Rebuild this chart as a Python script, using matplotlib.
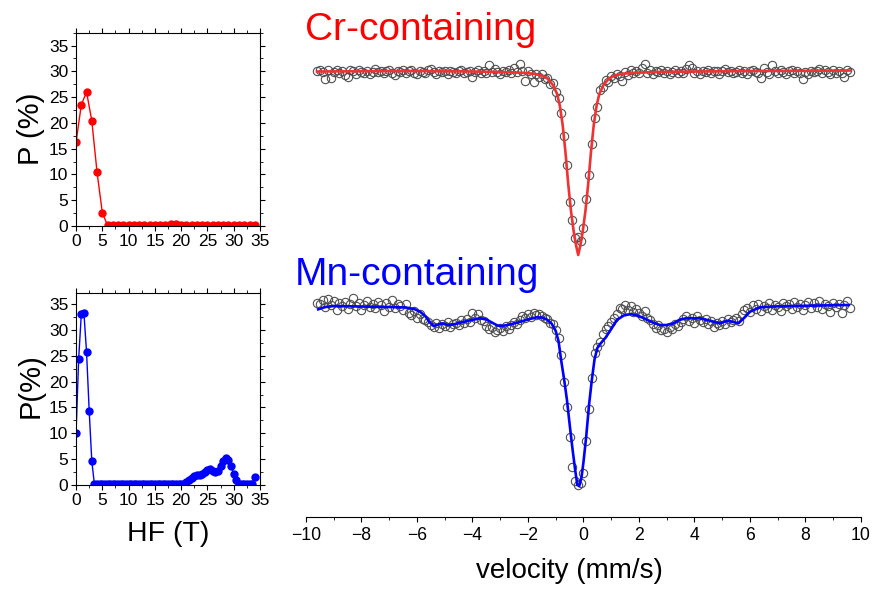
import numpy as np
import matplotlib
matplotlib.use('Agg')
from matplotlib import pyplot as plt
from matplotlib.ticker import MultipleLocator

plt.rcParams['font.family'] = ['Liberation Sans', 'DejaVu Sans']

# hyperfine field distributions
hf_cr = np.arange(0, 35, 1)
p_cr = [16.2, 23.5, 26.0, 20.4, 10.4, 2.6, 0.1, 0.1, 0.1, 0.1, 0.1, 0.1, 0.1, 0.1, 0.1, 0.1, 0.1, 0.1,
        0.35, 0.45, 0.15, 0.1, 0.1, 0.1, 0.1, 0.1, 0.1, 0.1, 0.1, 0.1, 0.1, 0.1, 0.15, 0.2, 0.1]

hf_mn = np.arange(0, 34.5, 0.5)
p_mn = [10.0, 24.4, 33.0, 33.2, 25.7, 14.4, 4.6] + [0.1] * 34 + \
       [0.2, 0.5, 0.9, 1.4, 1.7, 1.9, 2.0, 2.1, 2.5, 2.9, 3.1, 2.8, 2.5, 2.8, 3.7, 4.7, 5.2, 4.8, 3.6,
        2.1, 1.0, 0.1, 0.1, 0.1, 0.1, 0.1, 0.1, 1.5]

# Mossbauer spectra (arbitrary units, Cr spectrum offset above Mn)
vel = np.round(np.arange(-9.6, 9.65, 0.1), 2)

cr_data = [
    44.62, 44.70, 44.55, 43.77, 44.68, 43.90, 44.52, 44.75, 44.44, 44.60,
    44.25, 44.00, 44.66, 44.58, 44.35, 44.72, 44.50, 44.39, 44.63, 44.28,
    44.55, 44.80, 44.47, 44.64, 44.36, 44.58, 44.71, 44.45, 44.22, 44.60,
    44.49, 44.66, 44.38, 44.57, 44.74, 44.43, 44.31, 44.62, 44.54, 44.40,
    44.69, 44.85, 44.52, 44.33, 44.61, 44.47, 44.58, 44.27, 44.65, 44.50,
    44.42, 44.60, 44.73, 44.36, 44.55, 44.64, 44.03, 44.51, 44.68, 44.45,
    44.57, 44.38, 45.25, 44.49, 44.77, 44.55, 44.32, 44.60, 44.46, 44.70,
    44.41, 44.95, 44.52, 45.35, 44.58, 43.63, 44.62, 44.35, 43.53, 44.28,
    44.05, 44.35, 43.80, 43.95, 43.30, 43.45, 42.55, 41.95, 40.40, 38.10,
    35.20, 31.50, 29.70, 27.90, 28.00, 27.60, 28.90, 31.80, 34.20, 37.30,
    39.90, 41.00, 42.70, 43.00, 43.70, 43.55, 44.10, 43.95, 44.35, 44.15,
    43.60, 44.55, 44.20, 44.75, 44.45, 44.62, 44.38, 44.95, 45.30, 44.41,
    44.66, 44.33, 44.58, 44.47, 44.72, 44.40, 44.61, 44.28, 44.55, 44.69,
    44.45, 44.58, 44.36, 44.77, 45.20, 44.91, 44.43, 44.60, 44.31, 44.64,
    44.50, 44.73, 44.39, 44.56, 44.65, 44.34, 44.59, 44.81, 44.47, 44.62,
    44.36, 44.55, 44.70, 44.44, 44.61, 44.29, 44.57, 44.68, 44.50, 44.42,
    43.90, 44.95, 44.48, 44.35, 45.20, 44.56, 44.40, 44.66, 44.52, 44.30,
    44.59, 44.74, 44.45, 44.61, 44.37, 43.77, 44.53, 44.26, 44.64, 44.48,
    44.57, 44.80, 44.42, 44.66, 44.51, 44.33, 44.70, 44.45, 44.62, 44.38,
    43.97, 44.72, 44.50]

cr_fit_v = [-9.6, -8, -6, -4, -3, -2.2, -1.8, -1.5, -1.3, -1.1, -0.95, -0.85, -0.75, -0.65, -0.55,
            -0.45, -0.35, -0.27, -0.19, -0.11, -0.03, 0.07, 0.17, 0.27, 0.37, 0.47, 0.57, 0.72,
            0.92, 1.12, 1.42, 1.82, 2.6, 4, 6, 8, 9.6]
cr_fit = [44.55, 44.58, 44.6, 44.55, 44.5, 44.42, 44.33, 44.15, 43.85, 43.2, 42.3, 41.1, 39.2, 36.5,
          33.3, 30.6, 28.5, 27.2, 26.2, 27.2, 28.5, 30.6, 33.3, 36.5, 39.2, 41.1, 42.3, 43.2,
          43.85, 44.15, 44.33, 44.42, 44.5, 44.55, 44.6, 44.62, 44.65]

mn_data = [
    21.45, 21.30, 21.70, 21.05, 21.85, 21.25, 21.60, 20.75, 21.40, 21.15,
    21.55, 20.85, 21.35, 21.90, 21.10, 21.45, 20.70, 21.25, 21.60, 21.00,
    21.35, 20.90, 21.50, 21.20, 20.65, 21.40, 21.05, 21.70, 20.95, 21.30,
    21.10, 20.70, 21.35, 20.45, 20.20, 20.60, 19.95, 20.30, 19.85, 19.70,
    19.55, 19.25, 19.05, 19.40, 18.95, 19.30, 19.15, 19.50, 19.00, 19.35,
    19.45, 19.20, 19.70, 19.40, 19.85, 19.55, 20.40, 19.90, 20.30, 19.75,
    19.60, 19.15, 18.80, 19.05, 18.55, 18.70, 18.95, 18.60, 19.10, 18.85,
    19.20, 19.50, 19.35, 19.75, 20.10, 19.90, 20.35, 20.05, 20.45, 20.20,
    20.30, 20.10, 19.95, 19.80, 19.45, 19.30, 18.75, 17.90, 16.20, 13.50,
    11.00, 8.00, 5.00, 3.60, 3.20, 3.40, 4.40, 7.60, 10.80, 13.90,
    16.40, 17.00, 17.50, 18.30, 18.80, 19.10, 19.50, 19.90, 20.30, 20.90,
    20.85, 21.25, 20.70, 21.10, 20.55, 20.85, 20.40, 20.15, 20.60, 19.95,
    19.70, 19.35, 18.95, 19.20, 18.70, 18.85, 18.55, 19.05, 18.80, 19.30,
    19.10, 19.55, 19.85, 20.10, 19.60, 19.95, 19.40, 20.15, 19.75, 19.50,
    19.85, 19.30, 19.65, 19.00, 19.45, 19.20, 19.60, 19.35, 19.80, 19.55,
    19.70, 19.95, 19.60, 20.35, 20.70, 20.95, 20.55, 21.20, 20.80, 21.35,
    20.65, 21.10, 20.90, 21.45, 20.75, 21.25, 21.05, 20.60, 21.40, 21.15,
    21.30, 20.85, 21.55, 21.00, 21.35, 20.70, 21.20, 21.50, 20.95, 21.40,
    21.05, 21.60, 20.80, 21.30, 21.15, 20.55, 21.45, 21.00, 21.35, 20.45,
    21.25, 21.60, 20.90]

mn_fit_v = [-9.56, -9.3, -9.0, -8.0, -7.0, -6.4, -6.1, -5.9, -5.7, -5.55, -5.4, -5.25, -5.1, -4.95,
            -4.8, -4.55, -4.3, -4.0, -3.73, -3.5, -3.3, -3.1, -2.95, -2.75, -2.4, -2.0, -1.7, -1.5,
            -1.33, -1.15, -1.0, -0.9, -0.8, -0.7, -0.6, -0.5, -0.4, -0.3, -0.22, -0.15, -0.07, 0.0,
            0.1, 0.2, 0.3, 0.4, 0.5, 0.6, 0.8, 1.0, 1.2, 1.45, 1.7, 1.95, 2.2, 2.5, 2.76, 3.0, 3.24,
            3.45, 3.7, 4.2, 4.6, 4.92, 5.1, 5.22, 5.4, 5.58, 5.75, 6.0, 6.36, 7.0, 7.56, 8.5, 9.56]
mn_fit = [20.77, 21.0, 21.1, 21.05, 21.0, 20.95, 20.8, 20.55, 20.1, 19.5, 19.1, 19.25, 19.37, 19.25,
          19.2, 19.35, 19.53, 19.72, 19.87, 19.75, 19.45, 19.15, 19.1, 19.2, 19.43, 19.75, 19.97, 19.95,
          19.77, 19.35, 18.6, 17.6, 15.6, 13.8, 11.8, 9.3, 6.9, 4.7, 3.2, 3.1, 4.0, 5.5,
          8.1, 11.2, 13.7, 15.8, 16.9, 17.3, 17.95, 18.8, 19.7, 20.15, 20.3, 20.15, 19.85, 19.45, 19.2,
          19.2, 19.37, 19.7, 19.88, 19.87, 19.6, 19.37, 19.55, 19.63, 19.5, 19.37, 19.8, 20.53, 20.97,
          21.07, 21.1, 21.15, 21.2]

fig = plt.figure(figsize=(8.74, 5.89), dpi=100)

def dist_panel(rect, x, y, color, ytop):
    ax = fig.add_axes(rect)
    ax.plot(x, y, '-o', color=color, lw=1.0, ms=5)
    ax.set_xlim(0, 35)
    ax.set_ylim(0, ytop)
    ax.xaxis.set_major_locator(MultipleLocator(5))
    ax.yaxis.set_major_locator(MultipleLocator(5))
    ax.xaxis.set_minor_locator(MultipleLocator(2.5))
    ax.yaxis.set_minor_locator(MultipleLocator(2.5))
    ax.tick_params(which='both', direction='out', top=True, right=True, labelsize=12.5, pad=2)
    ax.tick_params(which='major', length=3.5, width=0.8)
    ax.tick_params(which='minor', length=2, width=0.6)
    for s in ax.spines.values():
        s.set_linewidth(0.8)
    return ax

dist_panel([0.0870, 0.6163, 0.2105, 0.3282], hf_cr, p_cr, '#ff0000', 37.5)
dist_panel([0.0870, 0.1766, 0.2105, 0.3265], hf_mn, p_mn, '#0000ff', 37.2)

fig.text(0.036, 0.782, 'P (%)', rotation=90, ha='center', va='center', fontsize=21)
fig.text(0.035, 0.345, 'P(%)', rotation=90, ha='center', va='center', fontsize=21)
fig.text(0.193, 0.093, 'HF (T)', ha='center', va='center', fontsize=20.5)

# spectra
ax = fig.add_axes([0.3501, 0.1222, 0.635, 0.8778])
ax.plot(vel, cr_data, 'o', mfc='none', mec='#505050', ms=6, mew=0.8)
ax.plot(cr_fit_v, cr_fit, '-', color='#f03232', lw=1.9)
ax.plot(vel, mn_data, 'o', mfc='none', mec='#505050', ms=6, mew=0.8)
ax.plot(mn_fit_v, mn_fit, '-', color='#0000ff', lw=1.9)
ax.set_xlim(-10, 10)
ax.set_ylim(0, 51.7)
for side in ['top', 'right', 'left']:
    ax.spines[side].set_visible(False)
ax.spines['bottom'].set_linewidth(0.8)
ax.set_yticks([])
ax.xaxis.set_major_locator(MultipleLocator(2))
ax.xaxis.set_minor_locator(MultipleLocator(1))
ax.tick_params(axis='x', which='major', direction='out', length=3.5, width=0.8, labelsize=12.7, pad=4)
ax.tick_params(axis='x', which='minor', direction='out', length=2, width=0.6)
ax.patch.set_alpha(0)

fig.text(0.651, 0.030, 'velocity (mm/s)', ha='center', va='center', fontsize=20)
fig.text(305 / 874, 1 - 39.5 / 589, 'Cr-containing', color='#ff0000', fontsize=28, va='baseline')
fig.text(295 / 874, 1 - 284.5 / 589, 'Mn-containing', color='#0000ff', fontsize=28, va='baseline')

fig.savefig('out.png', dpi=100)
